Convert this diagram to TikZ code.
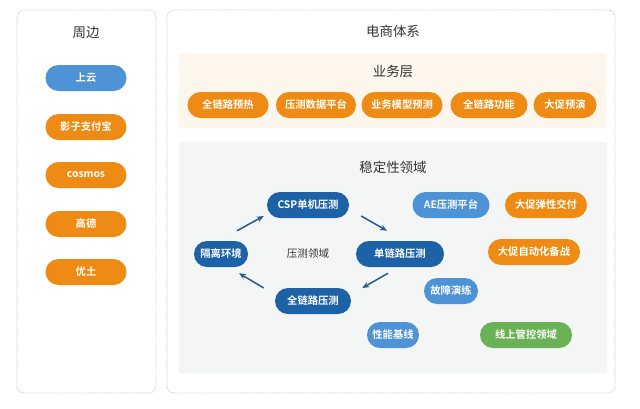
\documentclass[tikz,border=0pt]{standalone}
\usepackage{fontspec}
\setmainfont{Noto Sans CJK SC}[BoldFont={Noto Sans CJK SC Bold}]
\usepackage{tikz}
\usetikzlibrary{arrows.meta,positioning}
\definecolor{orangepill}{HTML}{EE8B14}
\definecolor{darkpill}{HTML}{1D62A7}
\definecolor{lightpill}{HTML}{4D93D5}
\definecolor{greenpill}{HTML}{6BB155}
\definecolor{beigebg}{HTML}{FCF6EC}
\definecolor{graybg}{HTML}{F3F6F4}
\definecolor{titletext}{HTML}{333333}
\definecolor{arrowblue}{HTML}{2B5C8E}
\tikzstyle{panel}=[draw=gray!45, fill=white, line width=0.6pt, dash pattern=on 0.8pt off 0.8pt, rounded corners=6pt]
\tikzstyle{layer}=[draw=none, rounded corners=2pt]
\tikzstyle{title}=[text=titletext, font=\fontsize{11.5}{13}\selectfont]
\tikzstyle{pill}=[rounded corners=0.39cm, minimum height=0.78cm, inner xsep=2pt, text=white, font=\fontsize{8.8}{10}\selectfont\bfseries]
\tikzstyle{orangepill}=[pill, fill=orangepill]
\tikzstyle{darkpill}=[pill, fill=darkpill]
\tikzstyle{lightpill}=[pill, fill=lightpill]
\tikzstyle{greenpill}=[pill, fill=greenpill]
\tikzstyle{flow}=[draw=arrowblue, line width=1.3pt, -{Stealth[length=6pt,width=5pt]}]

\begin{document}
\begin{tikzpicture}[x=0.03cm, y=-0.03cm]
    \useasboundingbox (0,0) rectangle (640,408);
    % Two outer panels
    \draw[panel] (17,10) rectangle (156,393);
    \draw[panel] (167,10) rectangle (615,393);
    \node[title] (side) at (86,33) {周边};
    \node[title] (shop) at (393,31) {电商体系};

    % Side pills
    \node[lightpill, minimum width=2.43cm] (cloud) at (86,78) {上云};
    \node[orangepill, minimum width=2.43cm] (shadow) at (86,127) {影子支付宝};
    \node[orangepill, minimum width=2.43cm] (cosmos) at (86,175) {cosmos};
    \node[orangepill, minimum width=2.43cm] (gaode) at (86,224) {高德};
    \node[orangepill, minimum width=2.43cm] (youtu) at (86,272) {优土};

    % Business layer
    \fill[layer, fill=beigebg] (179,53) rectangle (606,128);
    \node[title] (biz) at (393,71) {业务层};
    \node[orangepill, minimum width=2.43cm] (b1) at (228,105) {全链路预热};
    \node[orangepill, minimum width=2.40cm] (b2) at (316,105) {压测数据平台};
    \node[orangepill, minimum width=2.43cm] (b3) at (402,105) {业务模型预测};
    \node[orangepill, minimum width=2.31cm] (b4) at (489,105) {全链路功能};
    \node[orangepill, minimum width=1.89cm] (b5) at (565,105) {大促预演};

    % Stability layer
    \fill[layer, fill=graybg] (179,142) rectangle (607,373);
    \node[title] (stab) at (393,167) {稳定性领域};
    \node[darkpill, minimum width=2.46cm] (csp) at (308,205) {CSP单机压测};
    \node[darkpill, minimum width=1.62cm] (iso) at (221,254) {隔离环境};
    \node[darkpill, minimum width=2.64cm] (single) at (400,254) {单链路压测};
    \node[darkpill, minimum width=2.28cm] (full) at (313,301) {全链路压测};
    \node[text=titletext, font=\fontsize{9}{10}\selectfont] (domain) at (308,254) {压测领域};

    \node[lightpill, minimum width=1.56cm] (perf) at (393,335) {性能基线};
    \node[lightpill, minimum width=2.31cm] (ae) at (451,205) {AE压测平台};
    \node[lightpill, minimum width=1.62cm] (fault) at (451,291) {故障演练};
    \node[orangepill, minimum width=2.46cm] (elastic) at (546,205) {大促弹性交付};
    \node[orangepill, minimum width=2.76cm] (auto) at (534,252) {大促自动化备战};
    \node[greenpill, minimum width=2.76cm] (online) at (526,335) {线上管控领域};

    % Pressure test cycle
    \draw[flow] ([shift={(16,-10)}]iso.north) -- ([shift={(-3,11)}]csp.west);
    \draw[flow] ([shift={(12,11)}]csp.east) -- ([shift={(-13,-10)}]single.north);
    \draw[flow] ([shift={(-12,6)}]single.south) -- ([shift={(11,-13)}]full.east);
    \draw[flow] ([shift={(-11,-13)}]full.west) -- ([shift={(18,6)}]iso.south);
\end{tikzpicture}
\end{document}
